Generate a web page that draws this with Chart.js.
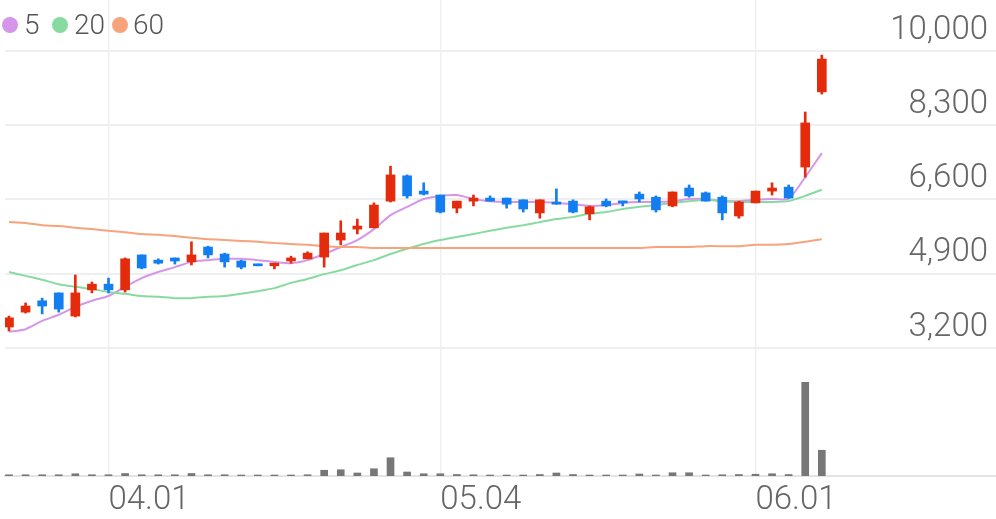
<!DOCTYPE html>
<html>
<head>
<meta charset="utf-8">
<script src="https://cdn.jsdelivr.net/npm/chart.js@4.4.0/dist/chart.umd.min.js"></script>
<style>
  body { margin: 0; background: #fff; }
  #wrap { position: relative; width: 996px; height: 519px; }
  .lg { position: absolute; font: 300 28px Roboto, sans-serif; color: #555; line-height: 28px; }
  .dot { position: absolute; width: 16px; height: 16px; border-radius: 50%; }
</style>
</head>
<body>
<div id="wrap">
  <canvas id="stockChart"></canvas>
  <span class="dot" style="left:2px;top:17px;background:#d596ea"></span><span class="lg" style="left:24px;top:11px">5</span>
  <span class="dot" style="left:52px;top:17px;background:#88dba0"></span><span class="lg" style="left:74px;top:11px">20</span>
  <span class="dot" style="left:112px;top:17px;background:#f7a37c"></span><span class="lg" style="left:133px;top:11px">60</span>
</div>
<script>
// trading days 2020.03.24 ~ 2020.06.05
const dates = ['03.24','03.25','03.26','03.27','03.30','03.31',
  '04.01','04.02','04.03','04.06','04.07','04.08','04.09','04.10','04.13','04.14',
  '04.16','04.17','04.20','04.21','04.22','04.23','04.24','04.27','04.28','04.29',
  '05.04','05.06','05.07','05.08','05.11','05.12','05.13','05.14','05.15','05.18',
  '05.19','05.20','05.21','05.22','05.25','05.26','05.27','05.28','05.29',
  '06.01','06.02','06.03','06.04','06.05'];
const dateTicks = ['04.01', '05.04', '06.01'];
const priceTicks = [3200, 4900, 6600, 8300, 10000];

const opens = [3680,4020,4280,4460,3930,4530,4660,4530,5330,5210,
  5260,5170,5510,5350,5190,5120,5080,5190,5240,5280,
  5670,5920,5950,6560,7140,6790,6700,6400,6560,6630,
  6630,6590,6290,6540,6560,6270,6560,6560,6720,6650,
  6450,6860,6750,6650,6220,6520,6790,6880,7340,9060];
const highs = [3930,4230,4340,4460,4870,4710,4800,5260,5330,5240,
  5260,5630,5530,5370,5210,5120,5140,5300,5400,5830,
  6110,6150,6520,7360,7160,6980,6700,6560,6700,6680,
  6630,6590,6590,6840,6590,6450,6610,6560,6770,6680,
  6770,6930,6770,6680,6560,6790,6980,6930,8600,9900];
const lows = [3590,4000,3980,4020,3910,4460,4460,4480,5010,5120,
  5120,5100,5260,5050,5010,5080,5010,5140,5240,5050,
  5560,5810,5950,6540,6630,6700,6290,6290,6450,6560,
  6400,6310,6170,6490,6290,6130,6430,6450,6540,6310,
  6430,6650,6560,6130,6170,6520,6700,6630,7110,9010];
const closes = [3890,4160,4160,4090,4460,4660,4530,5240,5030,5140,
  5190,5330,5330,5170,5050,5080,5140,5260,5370,5830,
  5830,5990,6470,7160,6680,6720,6310,6560,6630,6560,
  6490,6380,6590,6490,6310,6430,6450,6520,6610,6360,
  6770,6680,6560,6290,6540,6790,6860,6630,8350,9810];
const volumes = [50,50,50,50,90,50,50,100,50,50,
  50,100,50,50,40,40,40,40,50,230,
  250,120,290,730,160,90,90,60,50,40,
  40,40,60,120,60,40,40,40,80,40,
  130,130,40,50,60,70,90,60,3750,1030];

const ma5 = [3570,3630,3820,3960,4140,4280,4390,4600,4800,4940,
  5050,5170,5210,5240,5240,5210,5170,5140,5210,5350,
  5510,5670,5920,6240,6430,6610,6680,6700,6610,6560,
  6540,6540,6540,6520,6490,6450,6470,6520,6540,6540,
  6560,6610,6610,6560,6560,6590,6610,6610,7110,7660];
const ma20 = [4940,4850,4760,4660,4600,4550,4480,4440,4390,4370,
  4340,4340,4370,4390,4440,4500,4570,4690,4780,4890,
  4980,5100,5210,5350,5470,5580,5670,5740,5810,5880,
  5950,6010,6080,6150,6200,6270,6310,6380,6430,6470,
  6520,6560,6590,6560,6540,6540,6540,6560,6680,6820];
const ma60 = [6080,6060,6010,5990,5950,5920,5880,5850,5810,5790,
  5760,5720,5690,5670,5650,5630,5600,5580,5560,5530,
  5510,5510,5490,5490,5490,5490,5490,5490,5490,5490,
  5490,5490,5490,5490,5490,5490,5490,5490,5490,5510,
  5510,5510,5530,5530,5530,5560,5560,5580,5630,5690];

const UP = '#e42b0b';
const DOWN = '#137ef0';
const idx = dates.map((d, i) => i);
const candleColor = ctx => closes[ctx.dataIndex] >= opens[ctx.dataIndex] ? UP : DOWN;
const tickFont = { family: 'Roboto', size: 33, weight: 300 };

function maLine(values, color) {
  return {
    type: 'line',
    data: idx.map(i => ({ x: i, y: values[i] })),
    borderColor: color,
    borderWidth: 2,
    pointRadius: 0,
    tension: 0.2,
    yAxisID: 'y',
    order: 2
  };
}

new Chart(document.getElementById('stockChart'), {
  type: 'bar',
  data: {
    datasets: [
      maLine(ma60, '#f7a37c'),
      maLine(ma20, '#88dba0'),
      maLine(ma5, '#d596ea'),
      {
        // wick
        data: idx.map(i => ({ x: i, y: [lows[i], highs[i]] })),
        backgroundColor: candleColor,
        barThickness: 2,
        grouped: false,
        yAxisID: 'y',
        order: 1
      },
      {
        // body
        data: idx.map(i => ({ x: i, y: [opens[i], closes[i]] })),
        backgroundColor: candleColor,
        barThickness: 9,
        minBarLength: 2,
        grouped: false,
        yAxisID: 'y',
        order: 1
      },
      {
        data: idx.map(i => ({ x: i, y: volumes[i] })),
        backgroundColor: '#777777',
        barThickness: 7,
        grouped: false,
        yAxisID: 'vol',
        order: 1
      }
    ]
  },
  options: {
    animation: false,
    responsive: true,
    maintainAspectRatio: false,
    layout: { padding: { left: 5 } },
    plugins: { legend: { display: false }, tooltip: { enabled: false } },
    scales: {
      x: {
        type: 'linear',
        min: -0.24,
        max: 59.5,
        offset: false,
        afterBuildTicks: axis => { axis.ticks = dateTicks.map(d => ({ value: dates.indexOf(d) })); },
        afterFit: axis => { axis.height = 43; },
        ticks: {
          callback: v => dates[v],
          align: 'start',
          padding: 8,
          color: '#666',
          font: { family: 'Roboto', size: 33, weight: 300, lineHeight: 1 }
        },
        grid: { color: '#f0f0f0', lineWidth: 1.5, drawTicks: false, offset: false },
        border: { color: '#e4e4e4', width: 2 }
      },
      y: {
        position: 'right',
        min: 271,
        max: 11162,
        afterBuildTicks: axis => { axis.ticks = priceTicks.map(v => ({ value: v })); },
        afterFit: axis => { axis.paddingTop = 0; axis.paddingBottom = 0; },
        ticks: {
          mirror: true,
          padding: -8,
          labelOffset: -20.5,
          color: '#666',
          font: tickFont,
          callback: v => v.toLocaleString('en-US')
        },
        grid: { color: '#efefef', lineWidth: 2, drawTicks: false },
        border: { display: false }
      },
      vol: { display: false, min: 0, max: 19040 }
    }
  }
});
</script>
</body>
</html>
